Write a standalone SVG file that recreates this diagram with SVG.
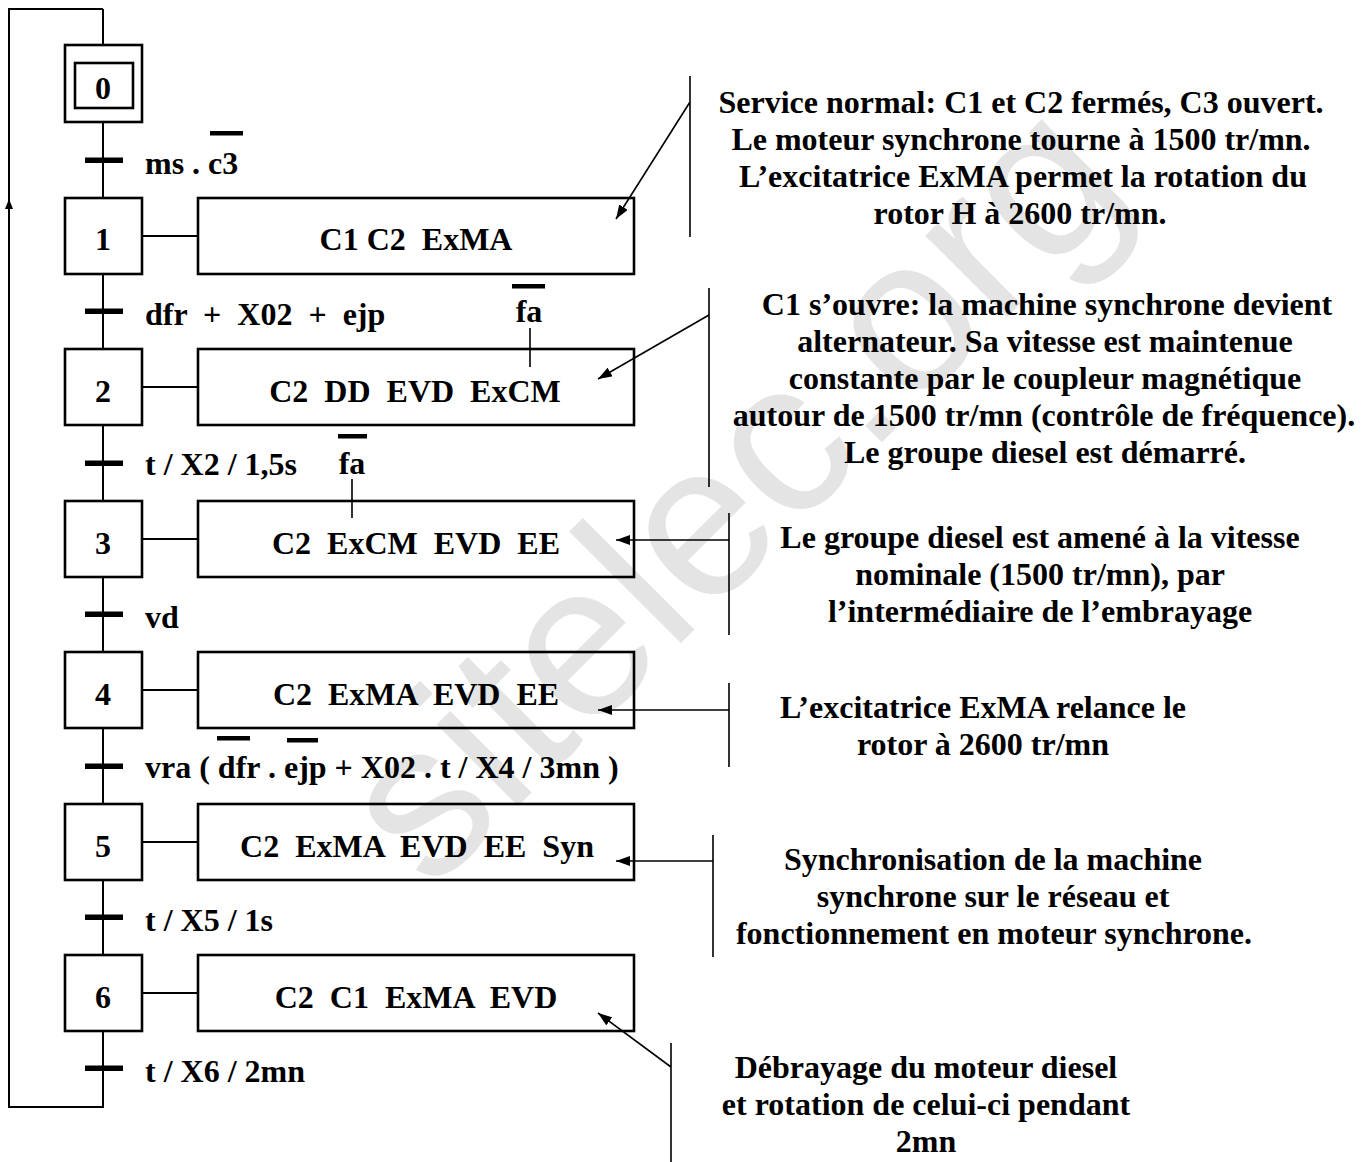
<svg xmlns="http://www.w3.org/2000/svg" width="1372" height="1162" viewBox="0 0 1372 1162" xml:space="preserve">
<style>
text{font-family:"Liberation Serif","Times New Roman",serif;font-weight:bold;font-size:32px;fill:#000;white-space:pre}
.c{text-anchor:middle}
.box{fill:none;stroke:#000;stroke-width:2.6}
.ln{fill:none;stroke:#000;stroke-width:2}
.thin{fill:none;stroke:#000;stroke-width:1.6}
.bar{fill:#000}
.wm{font-family:"Liberation Sans",Arial,sans-serif;font-weight:normal;font-size:218px;fill:#e4e4e4;text-anchor:middle}
</style>
<defs>
<marker id="ah" markerUnits="userSpaceOnUse" markerWidth="14" markerHeight="10" refX="14" refY="5" orient="auto">
<path d="M0,0 L14,5 L0,10 z" fill="#000"/>
</marker>
<marker id="ahs" markerUnits="userSpaceOnUse" markerWidth="10" markerHeight="8" refX="10" refY="4" orient="auto">
<path d="M0,0 L10,4 L0,8 z" fill="#000"/>
</marker>
</defs>
<rect width="1372" height="1162" fill="#fff"/>
<g id="watermark"><text class="wm" x="782" y="542" transform="rotate(-45 782 542)">sitelec.org</text></g>

<g id="connectors">
<path class="ln" d="M103,9 V45 M103,122 V198 M103,274 V349 M103,425 V501 M103,577 V652 M103,728 V804 M103,880 V955 M103,1031 V1107 H9 V9 H103"/>
<path class="ln" d="M9,260 V199" marker-end="url(#ahs)"/>
<path class="ln" d="M142,236 H198 M142,387 H198 M142,539 H198 M142,690 H198 M142,842 H198 M142,993 H198"/>
<rect class="bar" x="85" y="157.5" width="38" height="5.5"/>
<rect class="bar" x="85" y="308.5" width="38" height="5.5"/>
<rect class="bar" x="85" y="460.5" width="38" height="5.5"/>
<rect class="bar" x="85" y="611.5" width="38" height="5.5"/>
<rect class="bar" x="85" y="763.5" width="38" height="5.5"/>
<rect class="bar" x="85" y="914.5" width="38" height="5.5"/>
<rect class="bar" x="85" y="1065.5" width="38" height="5.5"/>
<path class="thin" d="M530,328 V367 M352,479 V518"/>
<path class="thin" d="M690,76 V237 M690,102 L616,219" marker-end="url(#ah)"/>
<path class="thin" d="M709,288 V487 M709,315 L598,379" marker-end="url(#ah)"/>
<path class="thin" d="M729,513 V635 M729,540 H616" marker-end="url(#ah)"/>
<path class="thin" d="M729,683 V767 M729,710 H598" marker-end="url(#ah)"/>
<path class="thin" d="M713,835 V957 M713,861 H616" marker-end="url(#ah)"/>
<path class="thin" d="M671,1043 V1162 M671,1067 L598,1013" marker-end="url(#ah)"/>
</g>

<g id="step0"><rect class="box" x="65" y="45" width="77" height="77"/><rect class="box" x="75" y="63" width="58" height="45"/><text class="c" x="103" y="99">0</text></g>
<g id="step1"><rect class="box" x="65" y="198" width="77" height="76"/><text class="c" x="103" y="250">1</text></g>
<g id="action1"><rect class="box" x="198" y="198" width="436" height="76"/><text class="c" x="416" y="250">C1 C2  ExMA</text></g>
<g id="step2"><rect class="box" x="65" y="349" width="77" height="76"/><text class="c" x="103" y="402">2</text></g>
<g id="action2"><rect class="box" x="198" y="349" width="436" height="76"/><text class="c" x="415" y="402">C2  DD  EVD  ExCM</text></g>
<g id="step3"><rect class="box" x="65" y="501" width="77" height="76"/><text class="c" x="103" y="554">3</text></g>
<g id="action3"><rect class="box" x="198" y="501" width="436" height="76"/><text class="c" x="416" y="554">C2  ExCM  EVD  EE</text></g>
<g id="step4"><rect class="box" x="65" y="652" width="77" height="76"/><text class="c" x="103" y="705">4</text></g>
<g id="action4"><rect class="box" x="198" y="652" width="436" height="76"/><text class="c" x="416" y="705">C2  ExMA  EVD  EE</text></g>
<g id="step5"><rect class="box" x="65" y="804" width="77" height="76"/><text class="c" x="103" y="857">5</text></g>
<g id="action5"><rect class="box" x="198" y="804" width="436" height="76"/><text class="c" x="417" y="857">C2  ExMA  EVD  EE  Syn</text></g>
<g id="step6"><rect class="box" x="65" y="955" width="77" height="76"/><text class="c" x="103" y="1008">6</text></g>
<g id="action6"><rect class="box" x="198" y="955" width="436" height="76"/><text class="c" x="416" y="1008">C2  C1  ExMA  EVD</text></g>

<g id="transitions">
<text x="145" y="174">ms . c3</text><rect class="bar" x="210" y="131" width="33" height="4.5"/>
<text x="145" y="325">dfr  +  X02  +  ejp</text>
<text class="c" x="529" y="322">fa</text><rect class="bar" x="512" y="284" width="33" height="4.5"/>
<text x="145" y="475">t / X2 / 1,5s</text>
<text class="c" x="352" y="474">fa</text><rect class="bar" x="338" y="434" width="29" height="4.5"/>
<text x="145" y="628">vd</text>
<text x="145" y="778">vra ( dfr . ejp + X02 . t / X4 / 3mn )</text>
<rect class="bar" x="217" y="736" width="33" height="4.5"/><rect class="bar" x="287" y="738" width="31" height="4.5"/>
<text x="145" y="931">t / X5 / 1s</text>
<text x="145" y="1082">t / X6 / 2mn</text>
</g>

<g id="note1">
<text class="c" x="1021" y="113">Service normal: C1 et C2 fermés, C3 ouvert.</text>
<text class="c" x="1021" y="150">Le moteur synchrone tourne à 1500 tr/mn.</text>
<text class="c" x="1023" y="187">L’excitatrice ExMA permet la rotation du</text>
<text class="c" x="1020" y="224">rotor H à 2600 tr/mn.</text>
</g>
<g id="note2">
<text class="c" x="1047" y="315">C1 s’ouvre: la machine synchrone devient</text>
<text class="c" x="1045" y="352">alternateur. Sa vitesse est maintenue</text>
<text class="c" x="1045" y="389">constante par le coupleur magnétique</text>
<text class="c" x="1044" y="426">autour de 1500 tr/mn (contrôle de fréquence).</text>
<text class="c" x="1045" y="463">Le groupe diesel est démarré.</text>
</g>
<g id="note3">
<text class="c" x="1040" y="548">Le groupe diesel est amené à la vitesse</text>
<text class="c" x="1040" y="585">nominale (1500 tr/mn), par</text>
<text class="c" x="1040" y="622">l’intermédiaire de l’embrayage</text>
</g>
<g id="note4">
<text class="c" x="983" y="718">L’excitatrice ExMA relance le</text>
<text class="c" x="983" y="755">rotor à 2600 tr/mn</text>
</g>
<g id="note5">
<text class="c" x="993" y="870">Synchronisation de la machine</text>
<text class="c" x="993" y="907">synchrone sur le réseau et</text>
<text class="c" x="994" y="944">fonctionnement en moteur synchrone.</text>
</g>
<g id="note6">
<text class="c" x="926" y="1078">Débrayage du moteur diesel</text>
<text class="c" x="926" y="1115">et rotation de celui-ci pendant</text>
<text class="c" x="926" y="1152">2mn</text>
</g>
</svg>
